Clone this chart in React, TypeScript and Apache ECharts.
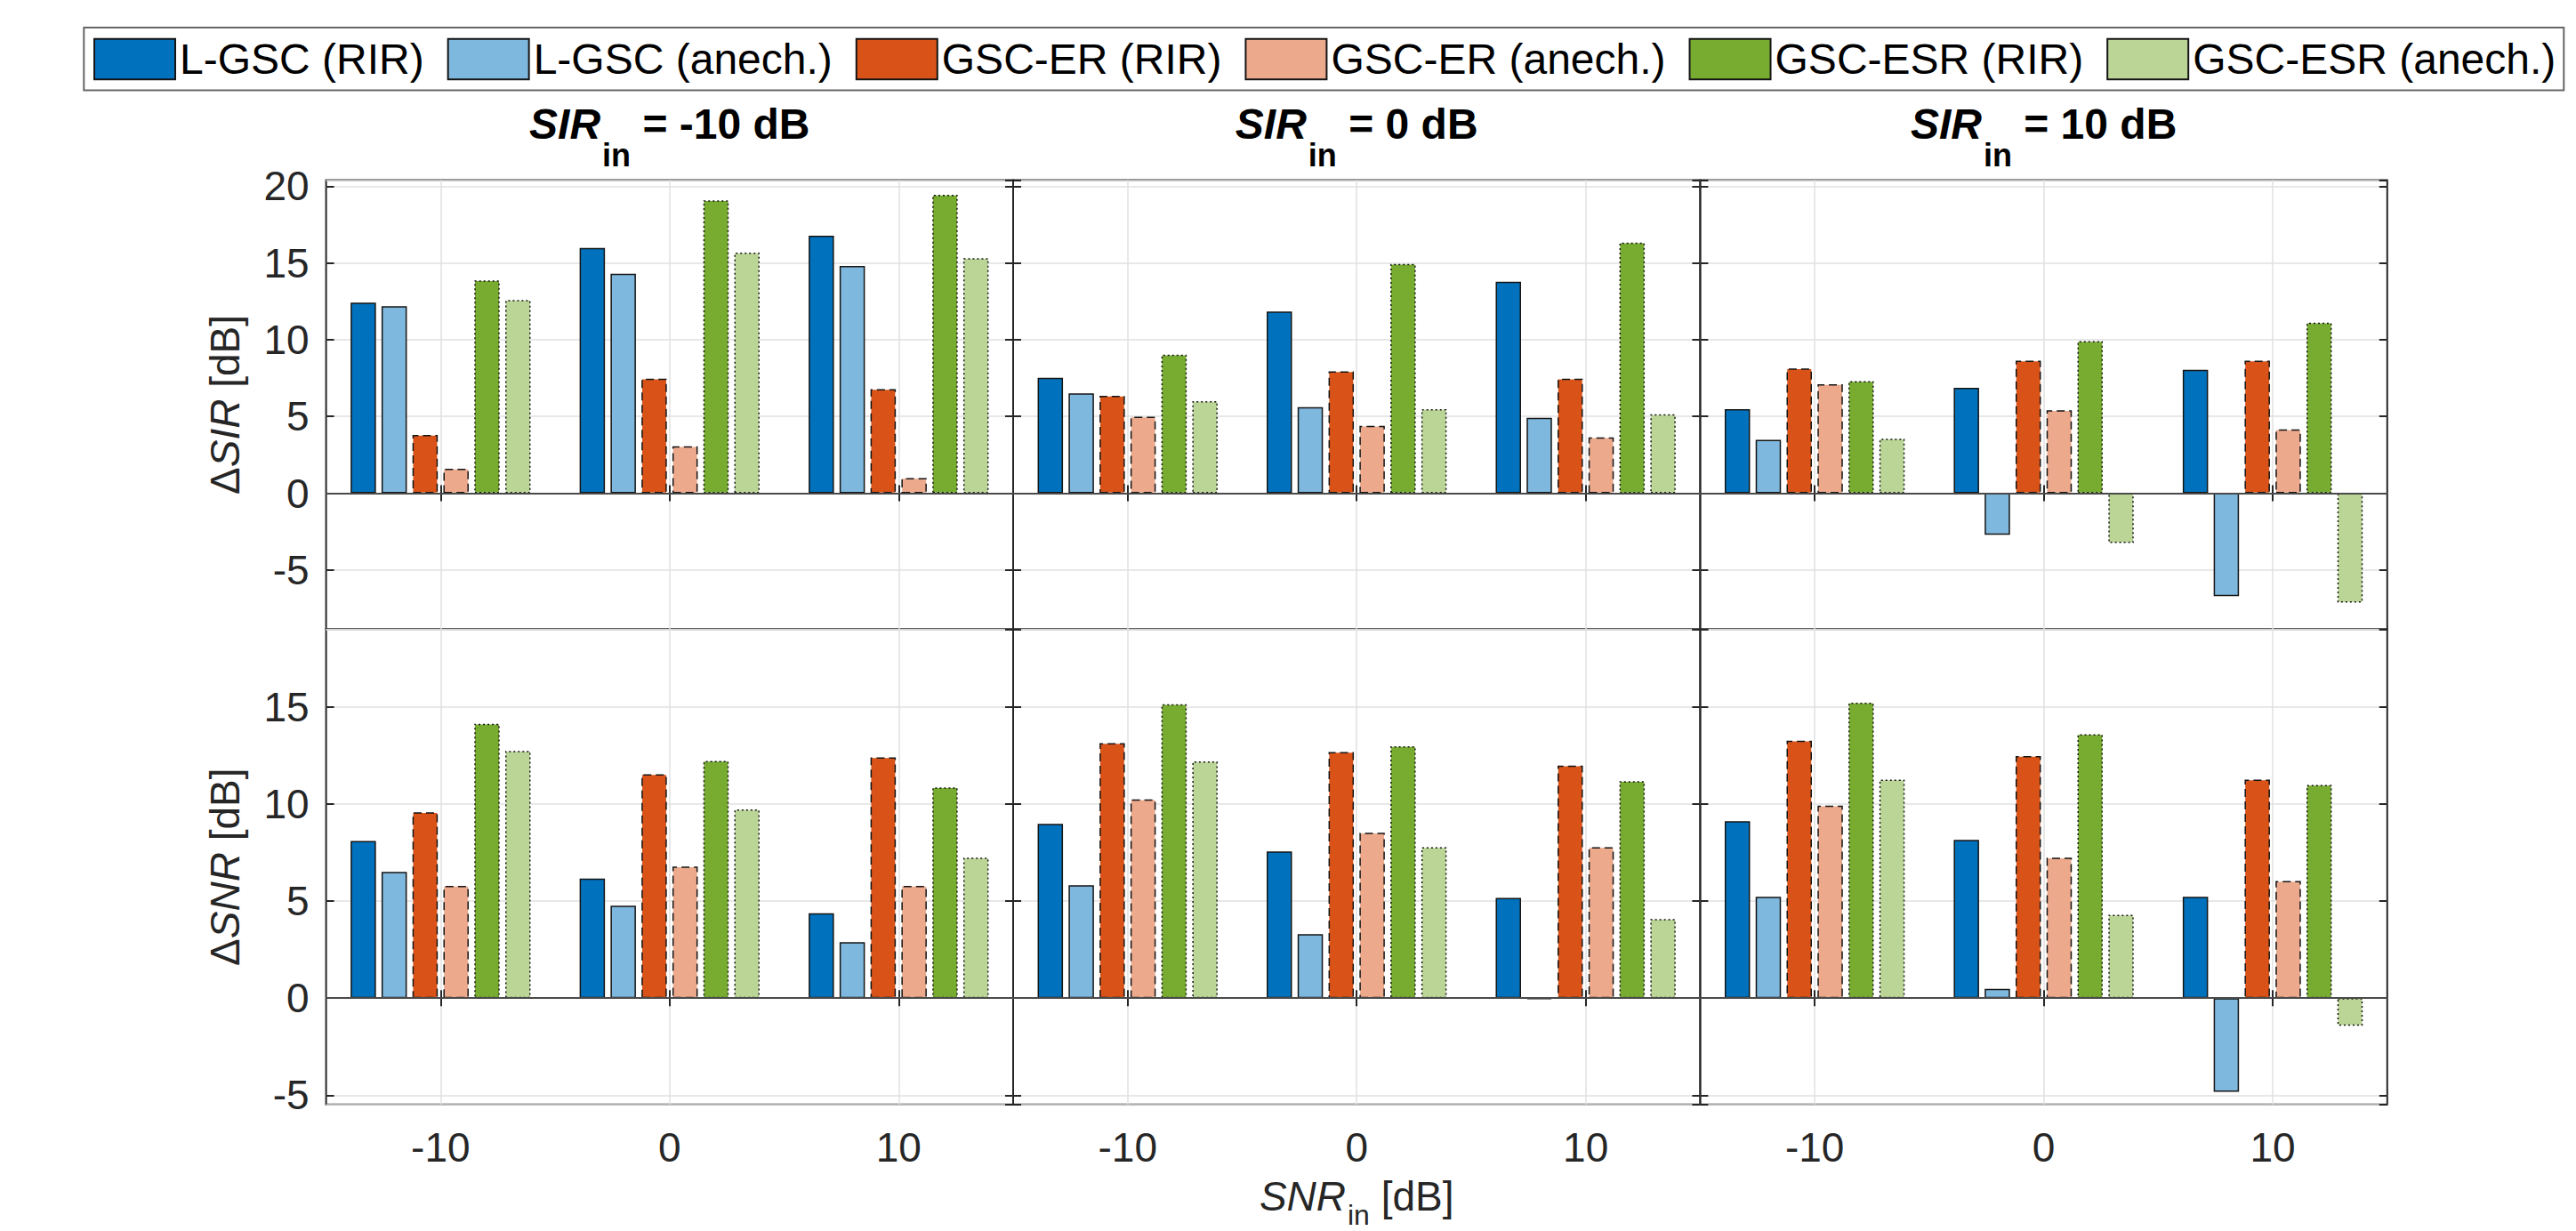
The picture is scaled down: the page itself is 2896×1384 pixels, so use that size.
import React, { useEffect, useRef } from 'react';
import * as echarts from 'echarts';

// ---------------- data ----------------
const snrCategories = ['-10', '0', '10'];
const sirLevels = ['-10', '0', '10'];
const seriesNames = [
  'L-GSC (RIR)',
  'L-GSC (anech.)',
  'GSC-ER (RIR)',
  'GSC-ER (anech.)',
  'GSC-ESR (RIR)',
  'GSC-ESR (anech.)',
];
const seriesColors = ['#0072BD', '#7FB8DE', '#D95319', '#ECA98C', '#77AC30', '#BBD597'];

// ΔSIR [dB]; rows = methods (order of seriesNames), columns = SNR_in -10, 0, 10 dB
const dSIR_SIRm10 = [
  [12.42, 15.97, 16.77],
  [12.18, 14.3, 14.8],
  [3.79, 7.46, 6.78],
  [1.6, 3.05, 0.98],
  [13.86, 19.08, 19.44],
  [12.58, 15.67, 15.31],
];
const dSIR_SIR0 = [
  [7.52, 11.84, 13.78],
  [6.5, 5.6, 4.91],
  [6.34, 7.94, 7.46],
  [4.99, 4.39, 3.63],
  [9.03, 14.94, 16.33],
  [6.0, 5.48, 5.14],
];
const dSIR_SIR10 = [
  [5.48, 6.86, 8.04],
  [3.47, -2.71, -6.7],
  [8.12, 8.63, 8.63],
  [7.1, 5.4, 4.15],
  [7.3, 9.91, 11.11],
  [3.55, -3.25, -7.12],
];

// ΔSNR [dB]
const dSNR_SIRm10 = [
  [8.1, 6.16, 4.38],
  [6.5, 4.76, 2.88],
  [9.58, 11.54, 12.4],
  [5.78, 6.78, 5.78],
  [14.14, 12.22, 10.86],
  [12.74, 9.72, 7.24],
];
const dSNR_SIR0 = [
  [8.98, 7.56, 5.16],
  [5.82, 3.3, -0.06],
  [13.14, 12.68, 11.98],
  [10.24, 8.52, 7.78],
  [15.14, 12.98, 11.18],
  [12.2, 7.78, 4.08],
];
const dSNR_SIR10 = [
  [9.12, 8.16, 5.22],
  [5.22, 0.48, -4.82],
  [13.26, 12.48, 11.26],
  [9.92, 7.24, 6.04],
  [15.22, 13.6, 10.98],
  [11.26, 4.3, -1.42],
];

const topRowData = [dSIR_SIRm10, dSIR_SIR0, dSIR_SIR10];
const bottomRowData = [dSNR_SIRm10, dSNR_SIR0, dSNR_SIR10];
const yTopRange = [-8.87, 20.4];
const yBottomRange = [-5.48, 19];

// ---------------- layout / style ----------------
const W = 2896;
const H = 1384;
const FONT = '"Liberation Sans", Arial, Helvetica, sans-serif';
const AX = '#262626';
const GRIDC = '#e1e1e1';
const GRID_LEFT = 366.6;
const GRID_W = 772.4;
const ROW_TOP = [202.4, 707.6];
const ROW_H = [505.2, 534.2];
const borderTypes: any[] = ['solid', 'solid', [9, 5], [9, 5], [2, 3], [2, 3]];

function buildOption() {
  const grid: any[] = [];
  const xAxis: any[] = [];
  const yAxis: any[] = [];
  const series: any[] = [];
  const graphic: any[] = [];

  for (let r = 0; r < 2; r++) {
    for (let c = 0; c < 3; c++) {
      const g = r * 3 + c;
      grid.push({
        left: GRID_LEFT + c * GRID_W,
        top: ROW_TOP[r],
        width: GRID_W,
        height: ROW_H[r],
        show: true,
        borderColor: AX,
        borderWidth: 2,
        backgroundColor: 'transparent',
        containLabel: false,
        outerBoundsMode: 'none',
      });
      xAxis.push({
        type: 'category',
        gridIndex: g,
        data: snrCategories,
        position: 'bottom',
        axisLine: { show: false },
        axisTick: { show: true, inside: true, length: 9, alignWithLabel: true, lineStyle: { color: AX, width: 2 } },
        axisLabel: { show: r === 1, fontSize: 46, color: AX, fontFamily: FONT, margin: 25 },
        splitLine: { show: true, alignWithLabel: true, lineStyle: { color: GRIDC, width: 1.5 } },
      });
      xAxis.push({
        type: 'category',
        gridIndex: g,
        data: snrCategories,
        position: 'top',
        axisLine: { show: false },
        axisTick: { show: true, inside: true, length: 9, alignWithLabel: true, lineStyle: { color: AX, width: 2 } },
        axisLabel: { show: false },
        splitLine: { show: false },
      });
      const [mn, mx] = r === 0 ? yTopRange : yBottomRange;
      const nm = r === 0 ? 'Δ{i|SIR} [dB]' : 'Δ{i|SNR} [dB]';
      yAxis.push({
        type: 'value',
        gridIndex: g,
        min: mn,
        max: mx,
        splitNumber: 6,
        position: 'left',
        axisLine: { show: false },
        axisTick: { show: true, inside: true, length: 9, lineStyle: { color: AX, width: 2 } },
        axisLabel: {
          show: c === 0,
          fontSize: 46,
          color: AX,
          fontFamily: FONT,
          margin: 19,
          showMinLabel: false,
          showMaxLabel: false,
        },
        splitLine: { show: true, lineStyle: { color: GRIDC, width: 1.5 } },
        name: c === 0 ? nm : '',
        nameLocation: 'middle',
        nameGap: 91,
        nameRotate: 90,
        nameTextStyle: {
          fontSize: 46,
          color: AX,
          fontFamily: FONT,
          rich: {
            i: { fontSize: 46, color: AX, fontFamily: FONT, fontStyle: 'italic' },
          },
        },
      });
      yAxis.push({
        type: 'value',
        gridIndex: g,
        min: mn,
        max: mx,
        splitNumber: 6,
        position: 'right',
        axisLine: { show: false },
        axisTick: { show: true, inside: true, length: 9, lineStyle: { color: AX, width: 2 } },
        axisLabel: { show: false },
        splitLine: { show: false },
      });

      const rowData = r === 0 ? topRowData[c] : bottomRowData[c];
      for (let m = 0; m < seriesNames.length; m++) {
        series.push({
          type: 'bar',
          name: seriesNames[m],
          xAxisIndex: g * 2,
          yAxisIndex: g * 2,
          data: rowData[m],
          barWidth: 28.5,
          barGap: '22%',
          silent: true,
          itemStyle: {
            color: seriesColors[m],
            borderColor: '#151515',
            borderWidth: 1.5,
            borderType: borderTypes[m],
          },
          emphasis: { disabled: true },
          markLine:
            m === 0
              ? {
                  silent: true,
                  symbol: ['none', 'none'],
                  label: { show: false },
                  lineStyle: { color: '#4a4a4a', width: 2, type: 'solid' },
                  data: [{ yAxis: 0 }],
                }
              : undefined,
        });
      }
    }
  }

  // panel titles: SIR_in = x dB
  for (let c = 0; c < 3; c++) {
    graphic.push({
      type: 'text',
      x: GRID_LEFT + c * GRID_W + GRID_W / 2,
      y: 115,
      style: {
        text: `{it|SIR}{sub|in}{b| = ${sirLevels[c]} dB}`,
        align: 'center',
        verticalAlign: 'top',
        fill: '#000',
        rich: {
          it: { fontSize: 48, fontWeight: 'bold', fontStyle: 'italic', fontFamily: FONT, fill: '#000', lineHeight: 56, verticalAlign: 'top' },
          b: { fontSize: 48, fontWeight: 'bold', fontFamily: FONT, fill: '#000', lineHeight: 56, verticalAlign: 'top' },
          sub: { fontSize: 36, fontWeight: 'bold', fontFamily: FONT, fill: '#000', padding: [41, 0, 0, 2], verticalAlign: 'top' },
        },
      },
    });
  }
  // x-axis label: SNR_in [dB]
  graphic.push({
    type: 'text',
    x: GRID_LEFT + GRID_W + GRID_W / 2,
    y: 1322,
    style: {
      text: '{it|SNR}{sub|in}{n| [dB]}',
      align: 'center',
      verticalAlign: 'top',
      fill: AX,
      rich: {
        it: { fontSize: 46, fontStyle: 'italic', fontFamily: FONT, fill: AX, lineHeight: 54, verticalAlign: 'top' },
        n: { fontSize: 46, fontFamily: FONT, fill: AX, lineHeight: 54, verticalAlign: 'top' },
        sub: { fontSize: 32, fontFamily: FONT, fill: AX, padding: [28, 0, 0, 2], verticalAlign: 'top' },
      },
    },
  });

  return {
    animation: false,
    backgroundColor: '#ffffff',
    textStyle: { fontFamily: FONT },
    legend: {
      data: seriesNames,
      left: 94.3,
      top: 31,
      orient: 'horizontal',
      icon: 'rect',
      itemWidth: 91,
      itemHeight: 45.6,
      itemGap: 26,
      padding: [11.5, 9, 11, 10.7],
      borderColor: '#666',
      borderWidth: 2,
      backgroundColor: '#fff',
      selectedMode: false,
      textStyle: { fontSize: 48, color: '#000', fontFamily: FONT },
    },
    grid,
    xAxis,
    yAxis,
    series,
    graphic,
  };
}

export default function App() {
  const ref = useRef<HTMLDivElement>(null);
  useEffect(() => {
    document.body.style.margin = '0';
    if (!ref.current) return;
    const chart = echarts.init(ref.current, undefined, { renderer: 'svg' });
    chart.setOption(buildOption() as any);
    return () => {
      chart.dispose();
    };
  }, []);
  return <div ref={ref} style={{ width: W, height: H }} />;
}
